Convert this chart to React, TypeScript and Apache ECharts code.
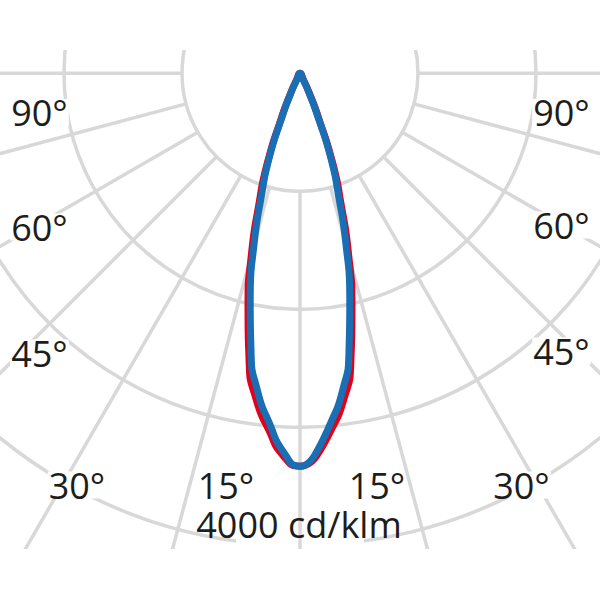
import React, { useEffect, useRef } from "react";
import * as echarts from "echarts";

// Polar angles (degrees from nadir) at which the intensities were read
const intensityAngles = [0, 2.5, 5, 7.5, 10, 12.5, 15, 17.5, 20, 22.5, 25, 27.5, 30];
// Luminous intensity, cd/klm
const planeC0C180 = [3330, 3245, 3035, 2805, 2483, 2035, 1593, 1153, 813, 424, 195, 58, 0];
const planeC90C270 = [3330, 3212, 2975, 2729, 2390, 1949, 1508, 1085, 763, 390, 178, 50, 0];

// Grid: circles every 1000 cd/klm, radial lines every 15 degrees
const circleStep = 1000;
const gridAngleStep = 15;
const scaleMax = 4000;

const sideLabels = ["90°", "60°", "45°"];
const bottomLabels = ["30°", "15°", "15°", "30°"];
const scaleLabel = "4000 cd/klm";

const CX = 300;
const CY = 73.3;
const UNIT = 118; // px per circle

function lobe(values: number[]): [number, number][] {
  const n = intensityAngles.length;
  const pts: [number, number][] = [];
  pts.push([values[1], 360 - intensityAngles[1]]);
  for (let i = 0; i < n; i++) pts.push([values[i], intensityAngles[i]]);
  for (let i = n - 1; i >= 1; i--) pts.push([values[i], 360 - intensityAngles[i]]);
  return pts;
}

export default function App() {
  const ref = useRef<HTMLDivElement>(null);
  useEffect(() => {
    if (!ref.current) return;
    const chart = echarts.init(ref.current, undefined, { renderer: "svg" });
    const gridColor = "#d8d8d8";
    const textColor = "#1d1d1b";
    const font = { fontSize: 36, fontFamily: "Open Sans" };
    const label = (text: string, x: number, y: number, bg: boolean) => ({
      type: "text",
      z: 110,
      silent: true,
      style: {
        text,
        x,
        y,
        fill: textColor,
        ...font,
        align: "center",
        verticalAlign: "middle",
        lineHeight: 27,
        ...(bg ? { backgroundColor: "#fff", padding: [0, 1] } : {}),
      },
    });
    const sideY = [112.5, 227, 353];
    const sideYR = [112.5, 225, 351];
    const bottomX = [77, 226, 377, 521.5];
    const bottomBg = [true, false, false, true];

    chart.setOption({
      animation: false,
      backgroundColor: "#fff",
      polar: [
        { center: [CX, CY], radius: [UNIT, UNIT * 8] },
        { center: [CX, CY], radius: [0, UNIT * (scaleMax / circleStep)] },
      ],
      radiusAxis: [
        {
          polarIndex: 0,
          type: "value",
          min: 1,
          max: 8,
          interval: 1,
          axisLine: { show: false },
          axisTick: { show: false },
          axisLabel: { show: false },
          splitLine: { show: true, lineStyle: { color: gridColor, width: 3.5 } },
        },
        {
          polarIndex: 1,
          type: "value",
          min: 0,
          max: scaleMax,
          show: false,
        },
      ],
      angleAxis: [
        {
          polarIndex: 0,
          type: "value",
          min: 0,
          max: 360,
          interval: gridAngleStep,
          startAngle: 270,
          clockwise: true,
          axisLine: { show: false },
          axisTick: { show: false },
          axisLabel: { show: false },
          splitLine: { show: true, lineStyle: { color: gridColor, width: 3.5 } },
        },
        {
          polarIndex: 1,
          type: "value",
          min: 0,
          max: 360,
          startAngle: 270,
          clockwise: true,
          show: false,
        },
      ],
      series: [
        {
          name: "C0-C180",
          type: "line",
          coordinateSystem: "polar",
          polarIndex: 1,
          data: lobe(planeC0C180),
          symbol: "none",
          smooth: 0.6,
          silent: true,
          z: 3,
          lineStyle: { color: "#e3001b", width: 7, cap: "round", join: "bevel" },
        },
        {
          name: "C90-C270",
          type: "line",
          coordinateSystem: "polar",
          polarIndex: 1,
          data: lobe(planeC90C270),
          symbol: "none",
          smooth: 0.6,
          silent: true,
          z: 4,
          lineStyle: { color: "#1a6eb4", width: 7, cap: "round", join: "bevel" },
        },
      ],
      graphic: [
        { type: "rect", z: 100, silent: true, shape: { x: 0, y: 0, width: 600, height: 50 }, style: { fill: "#fff" } },
        { type: "rect", z: 100, silent: true, shape: { x: 0, y: 549, width: 600, height: 51 }, style: { fill: "#fff" } },
        { type: "rect", z: 100, silent: true, shape: { x: 236, y: 538, width: 62.2, height: 12 }, style: { fill: "#fff" } },
        { type: "rect", z: 100, silent: true, shape: { x: 301.8, y: 538, width: 62.2, height: 12 }, style: { fill: "#fff" } },
        ...sideLabels.map((t, i) => label(t, 39.5, sideY[i], true)),
        ...sideLabels.map((t, i) => label(t, 561.5, sideYR[i], true)),
        ...bottomLabels.map((t, i) => label(t, bottomX[i], 485, bottomBg[i])),
        label(scaleLabel, 299, 524, false),
      ],
    });
    return () => chart.dispose();
  }, []);
  return (
    <div
      ref={ref}
      style={{ position: "fixed", left: 0, top: 0, width: 600, height: 600 }}
    />
  );
}
